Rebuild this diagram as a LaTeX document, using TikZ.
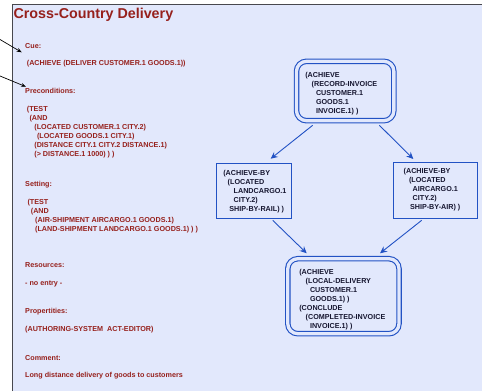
\documentclass[tikz,border=0pt]{standalone}
\usepackage{fontspec}
\setmainfont{Liberation Sans}
\usetikzlibrary{arrows.meta}

\definecolor{panel}{RGB}{226,232,252}
\definecolor{frameline}{RGB}{72,72,78}
\definecolor{slotred}{RGB}{150,32,28}
\definecolor{goalblue}{RGB}{34,82,196}
\definecolor{goalink}{RGB}{22,22,48}

% small bold face used for all slot and goal texts
\newcommand\smallbold{\fontsize{7.2}{9}\selectfont\bfseries}
% left-aligned block of lines, baseline on its first line
\newcommand\lineblock[1]{\parbox[t]{220pt}{\smallbold\raggedright
  \hyphenpenalty=10000\exhyphenpenalty=10000\strut#1}}
% fixed-size goal text: height, width, top gap, lines
\newcommand\goallines[4]{\parbox[c][#1][t]{#2}{\vspace*{#3}\smallbold
  \raggedright\hyphenpenalty=10000\exhyphenpenalty=10000\hbadness=10000
  \hfuzz=20pt\strut#4}}
\newcommand\ind[1]{\hspace*{#1pt}}

\tikzset{
  slotlabel/.style={anchor=base west, inner sep=0pt, text=slotred, font=\smallbold},
  slotblock/.style={anchor=base west, inner sep=0pt, text=slotred},
  goalframe/.style={anchor=north west, inner ysep=0pt, outer sep=0pt,
    draw=goalblue, line width=1.1pt, text=goalink},
  goalframedouble/.style={goalframe, double=panel, double distance=3.3pt,
    rounded corners=10pt},
  goalarrow/.style={draw=goalblue, line width=0.9pt,
    -{Stealth[length=7pt,width=6.5pt,inset=2.5pt]}},
  feedarrow/.style={draw=black, line width=0.7pt,
    -{Stealth[length=5pt,width=4pt,inset=1.6pt]}}
}

\begin{document}
\begin{tikzpicture}[x=1pt,y=-1pt]
\useasboundingbox (0,0) rectangle (482,391);

% sheet background and frame
\fill[white] (0,0) rectangle (482,391);
\fill[panel] (12.5,4.5) rectangle (482,391);
\draw[frameline, line width=1.3pt] (12.5,391) -- (12.5,4.5) -- (482,4.5);

% title
\node[anchor=base west, inner sep=0pt, text=slotred,
      font=\fontsize{14.3}{17}\selectfont\bfseries] (title) at (13.3,18.4)
  {Cross-Country Delivery};

% slots of the case
\node[slotlabel] (cue) at (25,48.8) {Cue:};
\node[slotlabel] (cuebody) at (26.7,65.6) {(ACHIEVE (DELIVER CUSTOMER.1 GOODS.1))};

\node[slotlabel] (pre) at (25,93.3) {Preconditions:};
\node[slotblock] (prebody) at (26.7,111.6) {\lineblock{(TEST\\
  \ind{2.6}(AND\\
  \ind{7.5}(LOCATED CUSTOMER.1 CITY.2)\\
  \ind{10.2}(LOCATED GOODS.1 CITY.1)\\
  \ind{7.5}(DISTANCE CITY.1 CITY.2 DISTANCE.1)\\
  \ind{7.5}(> DISTANCE.1 1000) ) )}};

\node[slotlabel] (setting) at (25,186.9) {Setting:};
\node[slotblock] (settingbody) at (27.3,204.9) {\lineblock{(TEST\\
  \ind{3.4}(AND\\
  \ind{7.7}(AIR-SHIPMENT AIRCARGO.1 GOODS.1)\\
  \ind{7.7}(LAND-SHIPMENT LANDCARGO.1 GOODS.1) ) )}};

\node[slotlabel] (res) at (25,267.6) {Resources:};
\node[slotlabel] (resbody) at (25,285.6) {- no entry -};

\node[slotlabel] (prop) at (25,313.6) {Propertities:};
\node[slotlabel] (propbody) at (25,331.6) {(AUTHORING-SYSTEM\ \ ACT-EDITOR)};

\node[slotlabel] (comment) at (25,360.6) {Comment:};
\node[slotlabel] (commentbody) at (25,377.3) {Long distance delivery of goods to customers};

% goal network
\node[goalframedouble, inner xsep=8.8pt] (record) at (296.5,61.3)
  {\goallines{59.4pt}{79.75pt}{10.3pt}{(ACHIEVE\\
   \ind{6.4}(RECORD-INVOICE\\
   \ind{10.7}CUSTOMER.1\\
   \ind{10.7}GOODS.1\\
   \ind{10.7}INVOICE.1) )}};

\node[goalframe, inner xsep=6.6pt] (rail) at (216.7,163.3)
  {\goallines{55.4pt}{61.8pt}{5.7pt}{(ACHIEVE-BY\\
   \ind{4.4}(LOCATED\\
   \ind{10.4}LANDCARGO.1\\
   \ind{10.4}CITY.2)\\
   \ind{6}SHIP-BY-RAIL) )}};

\node[goalframe, inner xsep=10.4pt] (air) at (393.3,162.7)
  {\goallines{56pt}{63.6pt}{4.9pt}{(ACHIEVE-BY\\
   \ind{5.3}(LOCATED\\
   \ind{9}AIRCARGO.1\\
   \ind{9}CITY.2)\\
   \ind{6.3}SHIP-BY-AIR) )}};

\node[goalframedouble, inner xsep=11.5pt] (deliver) at (287.8,258.7)
  {\goallines{75pt}{88.2pt}{9.3pt}{(ACHIEVE\\
   \ind{6.4}(LOCAL-DELIVERY\\
   \ind{10.7}CUSTOMER.1\\
   \ind{10.7}GOODS.1) )\\
   (CONCLUDE\\
   \ind{6.4}(COMPLETED-INVOICE\\
   \ind{10.7}INVOICE.1) )}};

\draw[goalarrow] ([xshift=-32.5pt,yshift=-4.6pt]record.south) -- ([xshift=16.5pt,yshift=4.6pt]rail.north);
\draw[goalarrow] ([xshift=34.2pt,yshift=-4.6pt]record.south) -- ([xshift=-22.2pt,yshift=3.7pt]air.north);
\draw[goalarrow] ([xshift=18.5pt,yshift=-1.6pt]rail.south) -- ([xshift=-36.7pt,yshift=5.4pt]deliver.north);
\draw[goalarrow] ([xshift=-13.8pt,yshift=-1.6pt]air.south) -- ([xshift=36.6pt,yshift=5.4pt]deliver.north);

% pointers into the slot list
\coordinate (cuefeed) at (0,39.5);
\coordinate (prefeed) at (0,76);
\draw[feedarrow] (cuefeed) -- ([xshift=-3.3pt,yshift=-6pt]cue.west);
\draw[feedarrow] (prefeed) -- ([xshift=1pt,yshift=4pt]pre.west);
\end{tikzpicture}
\end{document}
